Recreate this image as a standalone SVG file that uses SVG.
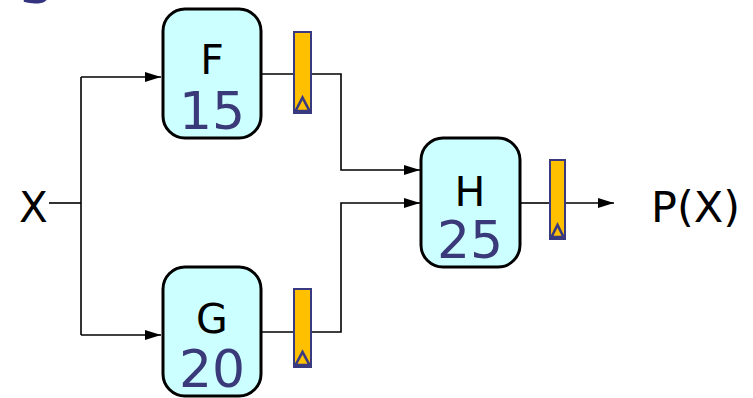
<svg xmlns="http://www.w3.org/2000/svg" width="753" height="398" viewBox="0 0 753 398">
  <style>
    .box { fill: #ccffff; stroke: #000; stroke-width: 3; }
    .name { font-family: "DejaVu Sans", Verdana, sans-serif; font-size: 41px; fill: #000; text-anchor: middle; }
    .delay { font-family: "DejaVu Sans", Verdana, sans-serif; font-size: 52px; fill: #3a3a7a; text-anchor: middle; }
    .io { font-family: "DejaVu Sans", Verdana, sans-serif; fill: #000; }
    .reg { fill: #ffc000; stroke: #3a3a80; stroke-width: 2; }
    .clk { fill: #ffc000; stroke: #3a3a80; stroke-width: 2.6; stroke-linejoin: miter; }
    .wire { fill: none; stroke: #000; stroke-width: 1.6; }
  </style>
  <defs>
    <marker id="arrow" markerWidth="16" markerHeight="10" refX="16" refY="5" orient="auto" markerUnits="userSpaceOnUse">
      <path d="M0,0 L16,5 L0,10 Z" fill="#000"/>
    </marker>
  </defs>

  <!-- title fragment at the upper edge -->
  <text x="-13" y="3" font-family="'DejaVu Sans', Verdana, sans-serif" font-weight="bold" font-size="50" letter-spacing="9" fill="#333380">rs</text>

  <!-- wiring -->
  <g id="connectors">
    <path class="wire" d="M49,203 H81"/>
    <path class="wire" d="M81,77 V335"/>
    <path class="wire" d="M81,77 H161" marker-end="url(#arrow)"/>
    <path class="wire" d="M81,335 H161" marker-end="url(#arrow)"/>
    <path class="wire" d="M261,74 H294"/>
    <path class="wire" d="M311,74 H341 V170 H420" marker-end="url(#arrow)"/>
    <path class="wire" d="M261,332 H294"/>
    <path class="wire" d="M311,332 H341 V203 H420" marker-end="url(#arrow)"/>
    <path class="wire" d="M520,203 H550"/>
    <path class="wire" d="M565,203 H614" marker-end="url(#arrow)"/>
  </g>

  <!-- input and output labels -->
  <g id="input-x">
    <text class="io" x="19" y="222" font-size="42">X</text>
  </g>
  <g id="output-px">
    <text class="io" x="651" y="222" font-size="43">P(X)</text>
  </g>

  <!-- combinational blocks -->
  <g id="block-f">
    <rect class="box" x="163" y="9" width="98" height="129" rx="22"/>
    <text class="name" x="212" y="74">F</text>
    <text class="delay" x="212" y="129">15</text>
  </g>
  <g id="block-g">
    <rect class="box" x="163" y="267" width="98" height="129" rx="22"/>
    <text class="name" x="212" y="333">G</text>
    <text class="delay" x="212" y="387">20</text>
  </g>
  <g id="block-h">
    <rect class="box" x="421" y="138" width="99" height="129" rx="22"/>
    <text class="name" x="470" y="206">H</text>
    <text class="delay" x="470" y="258">25</text>
  </g>

  <!-- pipeline registers -->
  <g id="reg-f">
    <rect class="reg" x="294" y="32" width="17" height="81"/>
    <path class="clk" d="M295.5,111 L302.5,97.5 L309.5,111 Z"/>
  </g>
  <g id="reg-g">
    <rect class="reg" x="294" y="289" width="17" height="78"/>
    <path class="clk" d="M295.5,365 L302.5,352 L309.5,365 Z"/>
  </g>
  <g id="reg-h">
    <rect class="reg" x="550" y="160" width="15" height="79"/>
    <path class="clk" d="M551.5,237 L557.5,225 L563.5,237 Z"/>
  </g>
</svg>
